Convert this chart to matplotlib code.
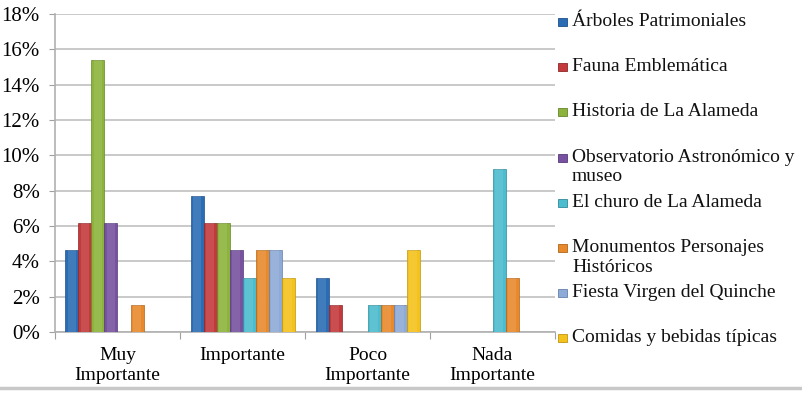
import numpy as np
import matplotlib
matplotlib.use('Agg')
import matplotlib.pyplot as plt
from matplotlib.lines import Line2D
from matplotlib.patches import Rectangle

plt.rcParams['font.family'] = ['Liberation Serif', 'DejaVu Serif']

categories = ['Muy\nImportante', 'Importante', 'Poco\nImportante', 'Nada\nImportante']
series = ['Árboles Patrimoniales', 'Fauna Emblemática', 'Historia de La Alameda',
          'Observatorio Astronómico y\nmuseo', 'El churo de La Alameda',
          'Monumentos Personajes\nHistóricos', 'Fiesta Virgen del Quinche',
          'Comidas y bebidas típicas']

arboles = [4.62, 7.69, 3.08, 0]
fauna = [6.15, 6.15, 1.54, 0]
historia = [15.38, 6.15, 0, 0]
observatorio = [6.15, 4.62, 0, 0]
churo = [0, 3.08, 1.54, 9.23]
monumentos = [1.54, 4.62, 1.54, 3.08]
fiesta = [0, 4.62, 1.54, 0]
comidas = [0, 3.08, 4.62, 0]

values = [arboles, fauna, historia, observatorio, churo, monumentos, fiesta, comidas]
colors = ['#2b6db5', '#c23a3c', '#8cb43c', '#7852a0', '#4cbccf', '#e88a2c', '#8eaad6', '#f4c21c']
edges = ['#1d4f88', '#8f2628', '#66862a', '#573a78', '#2f8a9a', '#b0651a', '#6580ac', '#c2950c']

fig = plt.figure(figsize=(8.03, 3.95), dpi=100)
ax = fig.add_axes([55 / 803, 63 / 395, 500 / 803, 318 / 395])

x = np.arange(len(categories))
w = 0.104
for i, vals in enumerate(values):
    pos = x - 4 * w + w / 2 + i * w
    ax.bar(pos, vals, w, color=colors[i], edgecolor=edges[i], linewidth=0.5, zorder=3)
    # soft highlight down the middle of each bar
    ax.bar(pos, vals, w * 0.6, color='white', alpha=0.1, linewidth=0, zorder=4)

ax.set_xlim(-0.5, 3.5)
ax.set_ylim(0, 18)
ax.set_yticks(range(0, 19, 2))
ax.set_yticklabels([f'{t}%' for t in range(0, 19, 2)], fontsize=15)
ax.yaxis.grid(True, color='#c0c0c0', linewidth=1.2, zorder=0)
ax.set_axisbelow(True)

ax.set_xticks([-0.5, 0.5, 1.5, 2.5, 3.5])
ax.set_xticklabels([])
ax.set_xticks(x, minor=True)
ax.set_xticklabels(categories, minor=True, fontsize=14, linespacing=1.2)
ax.tick_params(axis='x', which='minor', length=0, pad=11)
ax.tick_params(axis='x', which='major', length=5, color='#a0a0a0')
ax.tick_params(axis='y', length=4, color='#a0a0a0', pad=7)

for s in ['top', 'right']:
    ax.spines[s].set_visible(False)
for s in ['left', 'bottom']:
    ax.spines[s].set_color('#b0b0b0')
    ax.spines[s].set_linewidth(1.2)

# legend entries, first lines evenly spaced
y0 = 1 - 22 / 395
step = 45.2 / 395
for i, name in enumerate(series):
    yy = y0 - i * step
    fig.patches.append(Rectangle((558 / 803, yy - 4 / 395), 9 / 803, 8 / 395,
                                 transform=fig.transFigure, facecolor=colors[i],
                                 edgecolor=edges[i], linewidth=0.6))
    fig.text(572 / 803, yy + 9 / 395, name, fontsize=14, va='top', ha='left',
             linespacing=1.2, color='#111111')

fig.add_artist(Line2D([0, 1], [7 / 395, 7 / 395], color='#c8c8c8', linewidth=2.5,
                      transform=fig.transFigure))

fig.savefig('out.png', dpi=100)
